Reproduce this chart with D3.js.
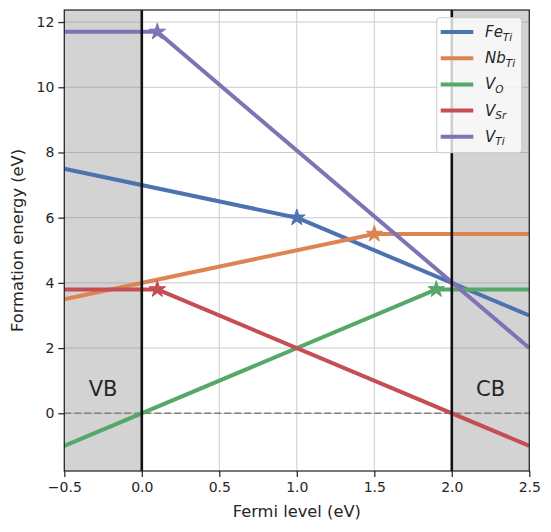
<!DOCTYPE html>
<html>
<head>
<meta charset="utf-8">
<script src="https://cdn.jsdelivr.net/npm/d3@7"></script>
<style>
  body { margin: 0; background: #fff; }
  text { font-family: "DejaVu Sans", sans-serif; fill: #262626; }
</style>
</head>
<body>
<svg id="chart" width="551" height="532"></svg>
<script>
// Defect formation energies vs Fermi level

// data
var names    = ["Fe", "Nb", "V", "V", "V"];
var subs     = ["Ti", "Ti", "O", "Sr", "Ti"];
var colors   = ["#4c72b0", "#dd8452", "#55a868", "#c44e52", "#8172b3"];
var feTi     = [[-0.5, 7.5], [1.0, 6.0], [2.5, 3.0]];
var nbTi     = [[-0.5, 3.5], [1.5, 5.5], [2.5, 5.5]];
var vO       = [[-0.5, -1.0], [1.9, 3.8], [2.5, 3.8]];
var vSr      = [[-0.5, 3.8], [0.1, 3.8], [2.5, -1.0]];
var vTi      = [[-0.5, 11.7], [0.1, 11.7], [2.5, 2.0]];
var series   = [feTi, nbTi, vO, vSr, vTi];
var stars    = [[1.0, 6.0], [1.5, 5.5], [1.9, 3.8], [0.1, 3.8], [0.1, 11.7]];
var xTicks   = [-0.5, 0.0, 0.5, 1.0, 1.5, 2.0, 2.5];
var yTicks   = [0, 2, 4, 6, 8, 10, 12];
var vbm = 0.0, cbm = 2.0;

var svg = d3.select('#chart'),
    pL = 64.3, pR = 529.3, pT = 10, pB = 471;

var x = d3.scaleLinear().domain([-0.5, 2.5]).range([pL, pR]);
var y = d3.scaleLinear().domain([-1.77, 12.37]).range([pB, pT]);

// grid
svg.append('g').selectAll('line').data(xTicks).enter().append('line')
    .attr('x1', d => x(d)).attr('x2', d => x(d))
    .attr('y1', pT).attr('y2', pB)
    .attr('stroke', '#cccccc').attr('stroke-width', 1);
svg.append('g').selectAll('line').data(yTicks).enter().append('line')
    .attr('x1', pL).attr('x2', pR)
    .attr('y1', d => y(d)).attr('y2', d => y(d))
    .attr('stroke', '#cccccc').attr('stroke-width', 1);

// shaded band regions
svg.append('rect')
    .attr('x', x(-0.5)).attr('y', pT)
    .attr('width', x(vbm) - x(-0.5)).attr('height', pB - pT)
    .attr('fill', '#808080').attr('fill-opacity', 0.35);
svg.append('rect')
    .attr('x', x(cbm)).attr('y', pT)
    .attr('width', x(2.5) - x(cbm)).attr('height', pB - pT)
    .attr('fill', '#808080').attr('fill-opacity', 0.35);

// zero line
svg.append('line')
    .attr('x1', pL).attr('x2', pR)
    .attr('y1', y(0)).attr('y2', y(0))
    .attr('stroke', '#808080').attr('stroke-width', 1.5)
    .attr('stroke-dasharray', '7,3');

// VB / CB labels
svg.append('text').attr('x', x(-0.25)).attr('y', y(0.53))
    .attr('text-anchor', 'middle').style('font-size', '21px').text('VB');
svg.append('text').attr('x', x(2.25)).attr('y', y(0.53))
    .attr('text-anchor', 'middle').style('font-size', '21px').text('CB');

// lines
var line = d3.line().x(d => x(d[0])).y(d => y(d[1]));
series.forEach(function (s, i) {
    svg.append('path').datum(s)
        .attr('d', line)
        .attr('fill', 'none')
        .attr('stroke', colors[i])
        .attr('stroke-width', 4)
        .attr('stroke-linejoin', 'round');
});

// stars at transition levels
var star = d3.symbol().type(d3.symbolStar).size(85);
stars.forEach(function (p, i) {
    svg.append('path')
        .attr('d', star)
        .attr('transform', 'translate(' + x(p[0]) + ',' + y(p[1]) + ')')
        .attr('fill', colors[i])
        .attr('stroke', colors[i]).attr('stroke-width', 1);
});

// band edges
[vbm, cbm].forEach(function (e) {
    svg.append('line')
        .attr('x1', x(e)).attr('x2', x(e))
        .attr('y1', pT).attr('y2', pB)
        .attr('stroke', '#111').attr('stroke-width', 2.6);
});

// frame
svg.append('rect')
    .attr('x', pL).attr('y', pT)
    .attr('width', pR - pL).attr('height', pB - pT)
    .attr('fill', 'none').attr('stroke', '#262626').attr('stroke-width', 1.25);

// axes
var xAxis = svg.append('g').attr('transform', 'translate(0,' + pB + ')')
    .call(d3.axisBottom(x).tickValues(xTicks).tickSize(6).tickPadding(5)
        .tickFormat(d => d3.format('.1f')(d).replace('-', '\u2212')));
var yAxis = svg.append('g').attr('transform', 'translate(' + pL + ',0)')
    .call(d3.axisLeft(y).tickValues(yTicks).tickSize(6).tickPadding(4)
        .tickFormat(d3.format('d')));
[xAxis, yAxis].forEach(function (a) {
    a.select('.domain').remove();
    a.selectAll('.tick line').attr('stroke', '#262626').attr('stroke-width', 1.25);
    a.selectAll('.tick text').style('font-size', '14px')
        .style('font-family', '"DejaVu Sans", sans-serif').attr('fill', '#262626');
});

// axis labels
svg.append('text').attr('x', (pL + pR) / 2).attr('y', 517)
    .attr('text-anchor', 'middle').style('font-size', '16.3px').text('Fermi level (eV)');
svg.append('text')
    .attr('transform', 'translate(23,' + (pT + pB) / 2 + ') rotate(-90)')
    .attr('text-anchor', 'middle').style('font-size', '16.3px').text('Formation energy (eV)');

// legend
var lg = svg.append('g');
lg.append('rect')
    .attr('x', 436.7).attr('y', 17.7).attr('width', 85).attr('height', 135).attr('rx', 3)
    .attr('fill', '#fff').attr('fill-opacity', 0.8)
    .attr('stroke', '#cccccc').attr('stroke-width', 1);
names.forEach(function (n, i) {
    var ly = 32 + i * 26.2;
    lg.append('line')
        .attr('x1', 440.7).attr('x2', 473.3).attr('y1', ly).attr('y2', ly)
        .attr('stroke', colors[i]).attr('stroke-width', 4);
    var t = lg.append('text').attr('x', 485).attr('y', ly + 5)
        .style('font-size', '15px').style('font-style', 'italic');
    t.append('tspan').text(n);
    t.append('tspan').attr('dy', 3.5).style('font-size', '10.5px').text(subs[i]);
});
</script>
</body>
</html>
